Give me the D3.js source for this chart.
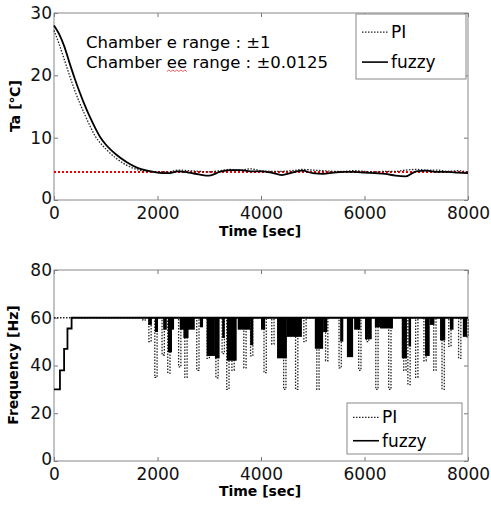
<!DOCTYPE html>
<html>
<head>
<meta charset="utf-8">
<script src="https://cdn.jsdelivr.net/npm/d3@7/dist/d3.min.js"></script>
<style>
  body { margin: 0; background: #fff; }
  svg { font-family: "DejaVu Sans", Arial, sans-serif; }
</style>
</head>
<body>
<script>
// ---- data: temperature panel
var tempTime = [0,100,200,300,400,500,600,700,800,900,1000,1200,1400,1600,1800,2000,
  2200,2400,2600,2800,3000,3200,3400,3600,3800,4000,4200,4400,4600,4800,5000,
  5200,5400,5600,5800,6000,6200,6400,6600,6800,7000,7200,7400,7600,7800,8000]
var tempFuzzy = [28.0,26.6,24.6,22.0,19.5,17.2,15.1,13.2,11.5,10.0,8.9,7.3,6.1,5.2,4.7,4.4,
  4.3,4.6,4.4,4.1,3.9,4.5,4.8,4.8,4.6,4.6,4.4,4.0,4.4,4.7,4.3,
  4.2,4.4,4.5,4.5,4.4,4.3,4.2,3.9,3.8,4.6,4.7,4.5,4.5,4.4,4.3]
var tempPI = [27.2,25.0,22.5,20.0,17.6,15.5,13.6,11.8,10.2,9.1,8.2,6.7,5.6,4.9,4.6,4.5,
  4.5,4.8,4.7,4.6,4.5,4.7,4.9,4.8,5.0,4.7,4.6,4.6,4.7,4.9,4.8,
  4.7,4.6,4.6,4.7,4.6,4.5,4.6,4.6,4.8,4.9,4.8,4.8,4.6,4.7,4.5]
var tempRef = 4.5

// ---- data: frequency panel
var fuzzyStart = [[0,30],[115,38],[195,47],[260,55.5],[340,60],[8000,60]]
// [start, end, low]
var fuzzyDips = [[1820,1890,57],[1950,2010,54],[2110,2180,55],[2200,2280,45.5],[2280,2320,55],
  [2430,2720,55],[2500,2600,51.5],[2820,2880,56],[2950,3110,44],[3110,3200,43],[3250,3300,51.5],
  [3340,3530,42],[3550,3790,55],[3790,3850,48.5],[4000,4080,55],[4310,4500,43],[4500,4790,52],
  [5040,5200,47],[5200,5280,54],[5530,5590,50],[5660,5780,43.5],[5800,5920,55],[6010,6140,51],
  [6200,6300,56],[6300,6550,55.5],[6720,6820,43],[6850,6900,48],[7170,7260,44],[7260,7350,57],
  [7460,7560,50.5],[7650,7720,55],[7900,7980,52]]
// [time, low]
var piDips = [[1740,59],[1855,50],[1970,35],[2110,44.4],[2220,36.8],[2430,39.4],[2550,35],
  [2780,38],[2980,43],[3150,34.8],[3270,45],[3360,30],[3460,38],[3690,39],[3820,44],[4080,37],
  [4230,49],[4460,30],[4690,30],[4850,50],[5100,30],[5270,42],[5530,39],[5720,48],[5910,38],
  [6060,50],[6240,30],[6490,30],[6780,38],[6860,32],[7010,35],[7170,42],[7360,38],[7520,30],
  [7650,48],[7840,43],[7980,52]]

var xTicks = [0,2000,4000,6000,8000]
var tempTicks = [0,10,20,30]
var freqTicks = [0,20,40,60,80]

var W = 491, H = 505
var svg = d3.select('body').append('svg').attr('width', W).attr('height', H)

var x = d3.scaleLinear().domain([0,8000]).range([54,468])
var yT = d3.scaleLinear().domain([0,30]).range([200,13])
var yF = d3.scaleLinear().domain([0,80]).range([461,270])
var fmt = d3.format('d')

function frame(y, ticks, top, bottom) {
  var g = svg.append('g')
  g.append('g').attr('transform','translate(0,'+bottom+')')
    .call(d3.axisBottom(x).tickValues(xTicks).tickSize(-4).tickPadding(7).tickFormat(fmt))
  g.append('g').attr('transform','translate(0,'+top+')')
    .call(d3.axisTop(x).tickValues(xTicks).tickSize(-4).tickFormat(''))
  g.append('g').attr('transform','translate(54,0)')
    .call(d3.axisLeft(y).tickValues(ticks).tickSize(-4).tickPadding(2).tickFormat(fmt))
  g.append('g').attr('transform','translate(468,0)')
    .call(d3.axisRight(y).tickValues(ticks).tickSize(-4).tickFormat(''))
  g.selectAll('.domain').remove()
  g.selectAll('.tick line').attr('stroke','#777')
  g.selectAll('.tick text').attr('font-size', 17).attr('fill','#111')
    .attr('font-family','"DejaVu Sans", Arial, sans-serif')
  // y "0" sits a touch higher so it clears the x "0"
  g.selectAll('.tick text').filter(function(d){ return d === 0 && this.getAttribute('x') !== null && +this.getAttribute('x') < 0 })
    .attr('dy','0.2em')
  g.append('rect').attr('x',54).attr('y',top).attr('width',414).attr('height',bottom-top)
    .attr('fill','none').attr('stroke','#888').attr('stroke-width',1)
  return g
}

// ________ top panel
frame(yT, tempTicks, 13, 200)

svg.append('line').attr('x1', x(0)).attr('x2', x(8000))
  .attr('y1', yT(tempRef)).attr('y2', yT(tempRef))
  .attr('stroke','#e00').attr('stroke-width',2).attr('stroke-dasharray','2,2')

var lineT = d3.line().x(function(d){ return x(d[0]) }).y(function(d){ return yT(d[1]) }).curve(d3.curveMonotoneX)
svg.append('path').datum(tempTime.map(function(t,i){ return [t,tempPI[i]] }))
  .attr('d', lineT).attr('fill','none').attr('stroke','#222').attr('stroke-width',1.3)
  .attr('stroke-dasharray','1.5,1.5')
svg.append('path').datum(tempTime.map(function(t,i){ return [t,tempFuzzy[i]] }))
  .attr('d', lineT).attr('fill','none').attr('stroke','#000').attr('stroke-width',1.8)

svg.append('text').attr('x',86).attr('y',48).attr('font-size',16.5).text('Chamber e range : \u00b11')
var t2 = svg.append('text').attr('x',86).attr('y',68).attr('font-size',16.5)
t2.append('tspan').text('Chamber ')
t2.append('tspan').text('ee')
t2.append('tspan').text(' range : \u00b10.0125')
var node = t2.node()
var sx = 86 + node.getSubStringLength(0, 8), sw = node.getSubStringLength(8, 2)
var sq = 'M' + sx + ',71.5'
for (var k = 1; k * 2 <= sw; k++) sq += ' L' + (sx + k*2) + ',' + (k % 2 ? 70 : 71.5)
svg.append('path').attr('d', sq).attr('fill','none').attr('stroke','#e33').attr('stroke-width',0.8)

svg.append('text').attr('transform','translate(20,106) rotate(-90)').attr('text-anchor','middle')
  .attr('font-size',14).attr('font-weight','bold').text('Ta [\u2103]')
svg.append('text').attr('x',260).attr('y',236).attr('text-anchor','middle')
  .attr('font-size',14).attr('font-weight','bold').text('Time [sec]')

function legend(x0, y0, w, h) {
  var g = svg.append('g')
  g.append('rect').attr('x',x0).attr('y',y0).attr('width',w).attr('height',h)
    .attr('fill','#fff').attr('stroke','#888')
  var r1 = y0 + h*0.28, r2 = y0 + h*0.74
  g.append('line').attr('x1',x0+6).attr('x2',x0+32).attr('y1',r1).attr('y2',r1)
    .attr('stroke','#222').attr('stroke-width',1.2).attr('stroke-dasharray','1.5,1.5')
  g.append('line').attr('x1',x0+6).attr('x2',x0+32).attr('y1',r2).attr('y2',r2)
    .attr('stroke','#000').attr('stroke-width',1.6)
  g.append('text').attr('x',x0+35).attr('y',r1+6).attr('font-size',17).text('PI')
  g.append('text').attr('x',x0+35).attr('y',r2+6).attr('font-size',17).text('fuzzy')
}
legend(356, 14, 110, 65)

// ________ bottom panel
frame(yF, freqTicks, 270, 461)

var piPts = [[0,60]]
piDips.forEach(function(d){
  piPts.push([d[0]-22,60],[d[0]-22,d[1]],[d[0]+22,d[1]],[d[0]+22,60])
})
piPts.push([8000,60])
var lineF = d3.line().x(function(d){ return x(d[0]) }).y(function(d){ return yF(d[1]) })
svg.append('path').datum(piPts).attr('d', lineF).attr('fill','none')
  .attr('stroke','#222').attr('stroke-width',1.3).attr('stroke-dasharray','1.5,1.5')

svg.selectAll('rect.fdip').data(fuzzyDips).enter().append('rect').attr('class','fdip')
  .attr('x', function(d){ return x(d[0]) })
  .attr('width', function(d){ return Math.max(1.2, x(d[1]) - x(d[0])) })
  .attr('y', yF(60))
  .attr('height', function(d){ return yF(d[2]) - yF(60) })
  .attr('fill','#000')
svg.append('path').datum(fuzzyStart).attr('d', lineF.curve(d3.curveStepAfter)).attr('fill','none')
  .attr('stroke','#000').attr('stroke-width',1.8)

svg.append('text').attr('transform','translate(18,365) rotate(-90)').attr('text-anchor','middle')
  .attr('font-size',14).attr('font-weight','bold').text('Frequency [Hz]')
svg.append('text').attr('x',260).attr('y',496).attr('text-anchor','middle')
  .attr('font-size',14).attr('font-weight','bold').text('Time [sec]')

legend(347, 403, 115, 51)
</script>
</body>
</html>
